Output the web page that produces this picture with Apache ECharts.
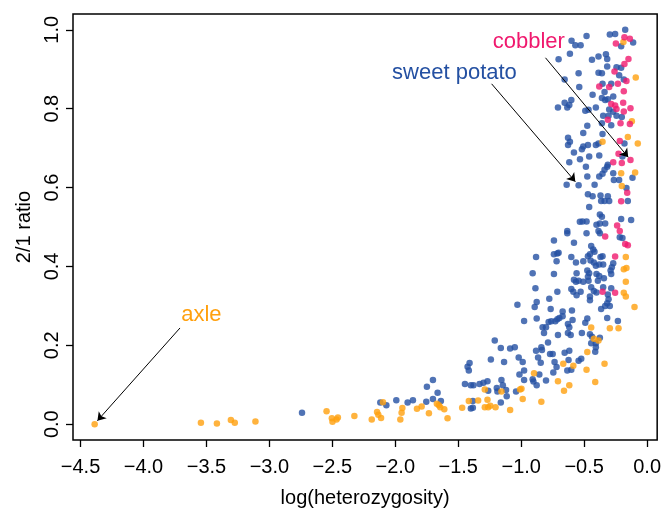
<!DOCTYPE html>
<html>
<head>
<meta charset="utf-8">
<title>2/1 ratio vs log(heterozygosity)</title>
<script src="https://cdn.jsdelivr.net/npm/echarts@6/dist/echarts.min.js"></script>
</head>
<body style="margin:0">
<div id="main" style="width:664px;height:514px;"></div>
<script type="text/javascript">
// tick labels
var xTicks = [-4.5, -4.0, -3.5, -3.0, -2.5, -2.0, -1.5, -1.0, -0.5, 0.0];
var yTicks = [0.0, 0.2, 0.4, 0.6, 0.8, 1.0];

// [log(heterozygosity), 2/1 ratio]
var bluePts = [
  [-0.174, 1.000], [-0.296, 0.988], [-0.254, 0.989], [-0.111, 0.968], [-0.206, 0.958],
  [-0.600, 0.972], [-0.570, 0.961], [-0.528, 0.961], [-0.481, 0.984], [-0.613, 0.939],
  [-0.703, 0.925], [-0.438, 0.924], [-0.386, 0.932], [-0.327, 0.938], [-0.317, 0.926],
  [-0.206, 0.904], [-0.243, 0.905], [-0.317, 0.907], [-0.222, 0.885], [-0.185, 0.874],
  [-0.285, 0.863], [-0.386, 0.891], [-0.359, 0.890], [-0.544, 0.890], [-0.655, 0.874],
  [-0.539, 0.855], [-0.354, 0.863], [-0.338, 0.842], [-0.269, 0.831], [-0.359, 0.827],
  [-0.333, 0.822], [-0.312, 0.824], [-0.269, 0.792], [-0.301, 0.798], [-0.407, 0.803],
  [-0.433, 0.835], [-0.708, 0.803], [-0.655, 0.815], [-0.602, 0.822], [-0.634, 0.803],
  [-0.618, 0.809], [-0.491, 0.795], [-0.465, 0.797], [-0.349, 0.782], [-0.306, 0.782],
  [-0.243, 0.782], [-0.201, 0.779], [-0.285, 0.758], [-0.359, 0.763], [-0.475, 0.757],
  [-0.507, 0.738], [-0.354, 0.736], [-0.628, 0.726], [-0.613, 0.716], [-0.628, 0.708],
  [-0.507, 0.704], [-0.470, 0.708], [-0.407, 0.708], [-0.386, 0.712], [-0.180, 0.712],
  [-0.196, 0.679], [-0.312, 0.658], [-0.317, 0.653], [-0.338, 0.645], [-0.380, 0.681],
  [-0.460, 0.679], [-0.533, 0.672], [-0.581, 0.689], [-0.486, 0.653], [-0.618, 0.664],
  [-0.518, 0.697], [-0.354, 0.635], [-0.380, 0.628], [-0.475, 0.628], [-0.269, 0.636],
  [-0.116, 0.625], [-0.264, 0.619], [-0.222, 0.619], [-0.164, 0.599], [-0.639, 0.607],
  [-0.544, 0.606], [-0.417, 0.607],
  [-0.470, 0.583], [-0.433, 0.578], [-0.370, 0.580], [-0.312, 0.578], [-0.301, 0.566],
  [-0.338, 0.566], [-0.365, 0.566], [-0.460, 0.551], [-0.153, 0.566], [-0.375, 0.532],
  [-0.359, 0.526], [-0.513, 0.514], [-0.534, 0.513], [-0.481, 0.514], [-0.402, 0.506],
  [-0.375, 0.509], [-0.333, 0.509], [-0.206, 0.520], [-0.127, 0.518], [-0.386, 0.490],
  [-0.375, 0.484], [-0.481, 0.484], [-0.634, 0.490], [-0.634, 0.484],
  [-0.217, 0.474], [-0.196, 0.472], [-0.740, 0.466], [-0.581, 0.460], [-0.444, 0.452],
  [-0.428, 0.443], [-0.418, 0.437], [-0.454, 0.431], [-0.470, 0.426], [-0.354, 0.426],
  [-0.370, 0.424], [-0.740, 0.431], [-0.713, 0.433], [-0.703, 0.435], [-0.602, 0.424],
  [-0.719, 0.413], [-0.565, 0.410], [-0.507, 0.413], [-0.449, 0.415], [-0.423, 0.410],
  [-0.407, 0.402], [-0.380, 0.405], [-0.349, 0.405], [-0.269, 0.408], [-0.280, 0.398],
  [-0.290, 0.390], [-0.285, 0.381], [-0.882, 0.424], [-0.909, 0.383], [-0.740, 0.381],
  [-0.560, 0.383], [-0.475, 0.390], [-0.460, 0.383], [-0.402, 0.381], [-0.380, 0.376],
  [-0.343, 0.370], [-0.581, 0.366], [-0.565, 0.361], [-0.544, 0.364], [-0.470, 0.374],
  [-0.465, 0.364], [-0.391, 0.364], [-0.507, 0.361], [-0.887, 0.345], [-0.713, 0.336],
  [-0.602, 0.343], [-0.586, 0.336], [-0.528, 0.336], [-0.560, 0.327], [-0.444, 0.347],
  [-0.423, 0.338], [-0.402, 0.334], [-0.349, 0.347], [-0.285, 0.345], [-0.312, 0.329],
  [-0.306, 0.317], [-0.454, 0.324], [-0.454, 0.314], [-1.030, 0.303], [-0.893, 0.297],
  [-0.877, 0.310], [-0.777, 0.318], [-0.766, 0.292], [-0.671, 0.286], [-0.597, 0.288],
  [-0.365, 0.292], [-0.333, 0.300], [-0.296, 0.300], [-0.317, 0.307], [-0.977, 0.262],
  [-0.877, 0.268], [-0.782, 0.259], [-0.761, 0.261], [-0.729, 0.261], [-0.713, 0.266],
  [-0.697, 0.269], [-0.671, 0.274], [-0.629, 0.254], [-0.592, 0.264], [-0.491, 0.257],
  [-0.475, 0.268], [-0.317, 0.269], [-0.232, 0.262], [-0.830, 0.246], [-0.803, 0.246],
  [-0.618, 0.246],
  [-0.819, 0.231], [-0.708, 0.226], [-0.629, 0.231], [-0.607, 0.226], [-0.518, 0.231],
  [-0.454, 0.228], [-0.438, 0.222], [-0.375, 0.219], [-0.444, 0.205], [-0.407, 0.205],
  [-0.407, 0.195], [-0.412, 0.184], [-1.210, 0.212], [-1.162, 0.193], [-1.088, 0.192],
  [-1.051, 0.195], [-0.787, 0.207], [-0.840, 0.195], [-0.835, 0.188], [-0.882, 0.186],
  [-0.771, 0.178], [-0.750, 0.178], [-0.655, 0.181], [-0.618, 0.186], [-0.866, 0.169],
  [-1.241, 0.164], [-1.136, 0.158], [-1.020, 0.169], [-0.988, 0.158], [-0.845, 0.156],
  [-0.735, 0.158], [-0.624, 0.163], [-0.523, 0.166], [-0.544, 0.161], [-0.719, 0.145],
  [-0.634, 0.136], [-0.602, 0.138], [-0.745, 0.131], [-1.410, 0.155], [-1.426, 0.146],
  [-1.416, 0.136], [-1.014, 0.126], [-0.977, 0.136], [-0.856, 0.126], [-0.909, 0.114],
  [-0.903, 0.108], [-0.877, 0.099], [-0.977, 0.112], [-0.803, 0.111], [-1.701, 0.112],
  [-1.749, 0.095], [-1.664, 0.080], [-1.447, 0.102], [-1.400, 0.099], [-1.379, 0.099],
  [-1.331, 0.102], [-1.300, 0.105], [-1.268, 0.109], [-1.157, 0.112], [-1.146, 0.099],
  [-1.262, 0.085], [-1.194, 0.092], [-1.189, 0.083], [-1.120, 0.087], [-1.115, 0.071],
  [-1.041, 0.083], [-1.754, 0.057], [-1.701, 0.064], [-1.638, 0.059], [-1.384, 0.059],
  [-1.162, 0.055], [-1.400, 0.040], [-1.384, 0.042],
  [-2.741, 0.029], [-2.119, 0.055], [-2.071, 0.048], [-1.992, 0.061], [-1.902, 0.055],
  [-1.860, 0.061]
];

var orangePts = [
  [-0.188, 0.969], [-0.090, 0.879], [-0.121, 0.768], [-0.354, 0.716], [-0.153, 0.728],
  [-0.074, 0.712], [-0.206, 0.636], [-0.095, 0.638], [-0.201, 0.604],
  [-0.169, 0.424], [-0.185, 0.393], [-0.164, 0.396], [-0.169, 0.361], [-0.185, 0.333],
  [-0.169, 0.324], [-0.100, 0.297], [-0.444, 0.245], [-0.296, 0.243], [-0.227, 0.243],
  [-0.422, 0.217], [-0.386, 0.212], [-0.475, 0.183], [-0.338, 0.153], [-0.666, 0.153],
  [-0.586, 0.148], [-0.481, 0.138], [-0.898, 0.129], [-0.708, 0.109], [-0.618, 0.099],
  [-0.660, 0.085], [-0.412, 0.107], [-1.289, 0.088], [-1.157, 0.083], [-1.009, 0.088],
  [-0.998, 0.090], [-0.988, 0.064], [-0.840, 0.057], [-1.670, 0.052], [-1.654, 0.048],
  [-1.643, 0.043], [-1.611, 0.038], [-1.416, 0.059], [-1.342, 0.060], [-1.268, 0.062],
  [-1.733, 0.028], [-1.791, 0.045], [-1.585, 0.015], [-1.469, 0.042], [-1.289, 0.043],
  [-1.262, 0.043], [-1.246, 0.047], [-1.204, 0.043], [-1.088, 0.036],
  [-2.546, 0.033], [-2.504, 0.015], [-2.499, 0.006], [-2.467, 0.012], [-2.456, 0.017],
  [-2.325, 0.021], [-2.187, 0.012], [-2.145, 0.031], [-2.135, 0.024], [-2.113, 0.016],
  [-2.098, 0.056], [-1.960, 0.012], [-1.950, 0.029], [-1.944, 0.041], [-1.828, 0.039],
  [-4.388, 0.000], [-3.544, 0.004], [-3.417, 0.002], [-3.306, 0.011], [-3.275, 0.004],
  [-3.111, 0.007]
];

var pinkPts = [
  [-0.180, 0.981], [-0.137, 0.977], [-0.248, 0.965], [-0.148, 0.926], [-0.180, 0.913],
  [-0.259, 0.894], [-0.164, 0.870], [-0.232, 0.863], [-0.380, 0.856], [-0.301, 0.855],
  [-0.185, 0.844], [-0.285, 0.812], [-0.254, 0.808], [-0.243, 0.799], [-0.190, 0.815],
  [-0.132, 0.801], [-0.185, 0.793], [-0.312, 0.772], [-0.137, 0.761], [-0.211, 0.763],
  [-0.217, 0.718], [-0.227, 0.686], [-0.132, 0.670], [-0.201, 0.662], [-0.269, 0.664],
  [-0.158, 0.587], [-0.206, 0.565], [-0.238, 0.504], [-0.217, 0.490],
  [-0.333, 0.476], [-0.174, 0.457], [-0.153, 0.454], [-0.254, 0.425], [-0.354, 0.336],
  [-0.254, 0.333]
];

// annotations: label position, arrow start, arrow end
var notes = [
  { text: 'axle', color: '#ffa00e', at: [-3.54, 0.277], from: [-3.71, 0.244], to: [-4.366, 0.009] },
  { text: 'sweet potato', color: '#2450a2', at: [-1.53, 0.890], from: [-1.235, 0.863], to: [-0.570, 0.615] },
  { text: 'cobbler', color: '#f0196e', at: [-0.94, 0.968], from: [-0.807, 0.929], to: [-0.150, 0.677] }
];

var FONT = '"Liberation Sans", Arial, Helvetica, sans-serif';
var BLUE = '#2450a2', ORANGE = '#ffa00e', PINK = '#f0196e';

function fmt(v) {
    return v.toFixed(1).replace('-', '\u2212');
}

var myChart = echarts.init(document.getElementById('main'));

var arrows = [];
for (var i = 0; i < notes.length; i++) {
    arrows.push([{ coord: notes[i].from }, { coord: notes[i].to }]);
}

var option = {
    animation: false,
    backgroundColor: '#fff',
    grid: {
        left: 73, right: 5, top: 14, bottom: 74,
        show: true, borderColor: '#000', borderWidth: 1.5, backgroundColor: 'transparent'
    },
    xAxis: {
        type: 'value', min: -4.56, max: 0.08,
        axisLine: { show: false, onZero: false },
        splitLine: { show: false },
        axisTick: { show: true, customValues: xTicks, length: 7, lineStyle: { color: '#000', width: 1.3 } },
        axisLabel: { customValues: xTicks, formatter: fmt, fontSize: 20, color: '#000', fontFamily: FONT, margin: 17 },
        name: 'log(heterozygosity)', nameLocation: 'middle', nameGap: 48,
        nameTextStyle: { fontSize: 20, color: '#000', fontFamily: FONT }
    },
    yAxis: {
        type: 'value', min: -0.04, max: 1.04,
        axisLine: { show: false, onZero: false },
        splitLine: { show: false },
        axisTick: { show: true, customValues: yTicks, length: 7, lineStyle: { color: '#000', width: 1.3 } },
        axisLabel: { customValues: yTicks, formatter: fmt, fontSize: 20, color: '#000', fontFamily: FONT, rotate: 90, margin: 11 },
        name: '2/1 ratio', nameLocation: 'middle', nameRotate: 90, nameGap: 33,
        nameTextStyle: { fontSize: 20, color: '#000', fontFamily: FONT }
    },
    series: [
        {
            name: 'blue', type: 'scatter', data: bluePts, symbolSize: 6.5,
            itemStyle: { color: BLUE },
            markLine: {
                silent: true, symbol: ['none', 'arrow'], symbolSize: 8,
                lineStyle: { color: '#000', width: 1, type: 'solid' },
                label: { show: false },
                data: arrows
            }
        },
        { name: 'orange', type: 'scatter', data: orangePts, symbolSize: 6.5, itemStyle: { color: ORANGE } },
        { name: 'pink', type: 'scatter', data: pinkPts, symbolSize: 6.5, itemStyle: { color: PINK } }
    ]
};

myChart.setOption(option);

// annotation text placed in data coordinates
var texts = [];
for (var j = 0; j < notes.length; j++) {
    var p = myChart.convertToPixel({ gridIndex: 0 }, notes[j].at);
    texts.push({
        type: 'text', x: p[0], y: p[1],
        style: { text: notes[j].text, fill: notes[j].color, font: '22px ' + FONT, textAlign: 'center', textVerticalAlign: 'middle' }
    });
}
myChart.setOption({ graphic: texts });
</script>
</body>
</html>
